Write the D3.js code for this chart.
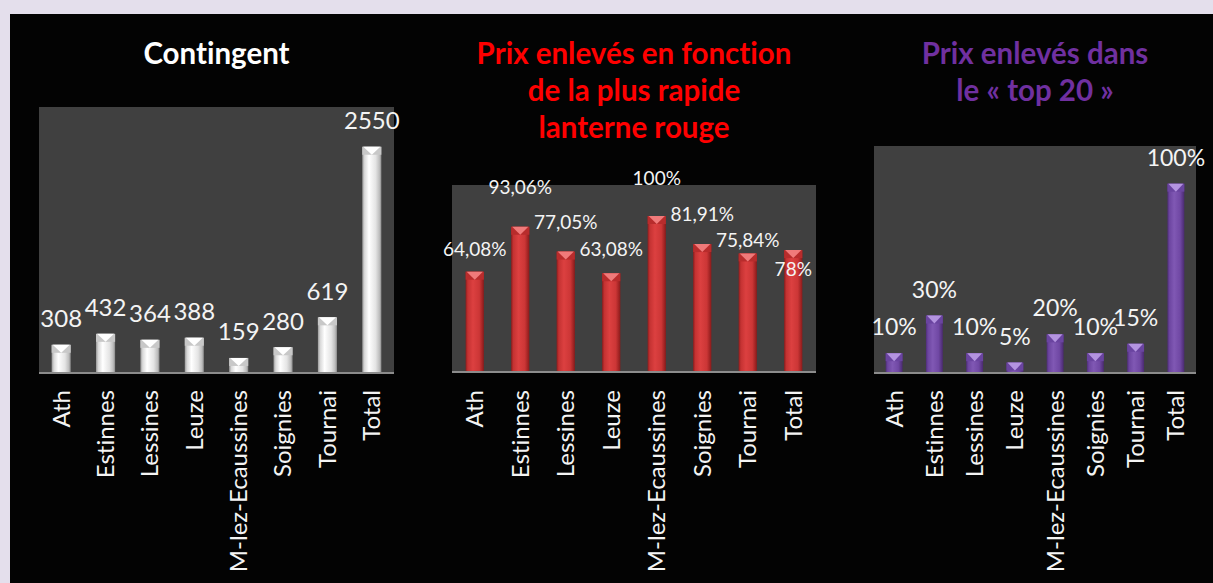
<!DOCTYPE html>
<html lang="fr">
<head>
<meta charset="UTF-8">
<title>Contingent et prix enlevés</title>
<script src="https://d3js.org/d3.v7.min.js"></script>
<style>
    body { margin: 0; background: #e4dfec; }
    svg { display: block; }
    text { font-variant-ligatures: none; font-feature-settings: "liga" 0; }
    .title { font-family: Lato, "Open Sans", sans-serif; font-weight: bold; text-anchor: middle; }
    .val { font-family: Lato, "Open Sans", sans-serif; fill: #f4f4f4; text-anchor: middle; }
    .cat { font-family: Lato, "Open Sans", sans-serif; fill: #f4f4f4; font-size: 24px; }
</style>
</head>
<body>
<svg width="1213" height="583"></svg>
<script>
    // data
    const categories = ["Ath", "Estinnes", "Lessines", "Leuze", "M-lez-Ecaussines", "Soignies", "Tournai", "Total"];
    const contingent = [308, 432, 364, 388, 159, 280, 619, 2550];
    const lanterne = [64.08, 93.06, 77.05, 63.08, 100, 81.91, 75.84, 78];
    const lanterneLabels = ["64,08%", "93,06%", "77,05%", "63,08%", "100%", "81,91%", "75,84%", "78%"];
    const top20 = [10, 30, 10, 5, 20, 10, 15, 100];
    // hand placed labels in the middle chart (px above the bar top)
    const lanterneLabelLift = [22, 39, 29, 24, 38, 30, 13, -19];

    const svg = d3.select("svg");
    svg.append("rect").attr("x", 10).attr("y", 14).attr("width", 1203).attr("height", 569).attr("fill", "#030303");

    const defs = svg.append("defs");
    function makeGrad(id, stops) {
        const g = defs.append("linearGradient").attr("id", id).attr("x1", "0").attr("x2", "1").attr("y1", "0").attr("y2", "0");
        stops.forEach(s => g.append("stop").attr("offset", s[0]).attr("stop-color", s[1]));
    }
    makeGrad("gWhite", [[0, "#9a9a9a"], [0.12, "#d8d8d8"], [0.35, "#ffffff"], [0.7, "#e4e4e4"], [0.9, "#bdbdbd"], [1, "#8a8a8a"]]);
    makeGrad("gRed", [[0, "#8e1c1c"], [0.12, "#c43232"], [0.4, "#dc4040"], [0.75, "#cc3636"], [1, "#8a1a1a"]]);
    makeGrad("gPurple", [[0, "#4e2d78"], [0.12, "#6c45a0"], [0.4, "#8058b4"], [0.75, "#7048a4"], [1, "#4a2a70"]]);

    const panels = [
        { values: contingent, labels: contingent.map(String), max: 3000, x0: 39, x1: 394, top: 107, base: 372,
          pad: 0.57, grad: "gWhite", cap: "#ffffff", capSide: "#c8c8c8", valSize: 24,
          title: ["Contingent"], titleColor: "#ffffff" },
        { values: lanterne, labels: lanterneLabels, lift: lanterneLabelLift, max: 120, x0: 452, x1: 816, top: 185, base: 371,
          pad: 0.6, grad: "gRed", cap: "#f07a7a", capSide: "#b82c2c", valSize: 19,
          title: ["Prix enlevés en fonction", "de la plus rapide", "lanterne rouge"], titleColor: "#ff0000" },
        { values: top20, labels: top20.map(d => d + "%"), max: 120, x0: 874, x1: 1196, top: 146, base: 372,
          pad: 0.58, grad: "gPurple", cap: "#b494e0", capSide: "#6a44a0", valSize: 23,
          title: ["Prix enlevés dans", "le « top 20 »"], titleColor: "#7030a0" }
    ];

    panels.forEach(p => {
        const g = svg.append("g");
        const x = d3.scaleBand().domain(categories).range([p.x0, p.x1]).paddingInner(p.pad).paddingOuter(p.pad / 2);
        const y = d3.scaleLinear().domain([0, p.max]).range([p.base, p.top]);
        const cx = c => x(c) + x.bandwidth() / 2;

        // titles
        g.selectAll("text.title").data(p.title).join("text")
            .attr("class", "title")
            .attr("x", (p.x0 + p.x1) / 2)
            .attr("y", (d, i) => 64 + i * 37)
            .attr("font-size", 29.5)
            .attr("fill", p.titleColor)
            .text(d => d);

        // plot area
        g.append("rect").attr("x", p.x0).attr("y", p.top).attr("width", p.x1 - p.x0).attr("height", p.base - p.top).attr("fill", "#404040");

        const data = categories.map((c, i) => ({ c, v: p.values[i], label: p.labels[i], lift: p.lift ? p.lift[i] : 26 }));

        // bars
        g.selectAll("rect.bar").data(data).join("rect")
            .attr("class", "bar")
            .attr("x", d => x(d.c))
            .attr("y", d => y(d.v))
            .attr("width", x.bandwidth())
            .attr("height", d => y(0) - y(d.v))
            .attr("fill", "url(#" + p.grad + ")");

        // pyramid caps on top of the bars
        const capH = 8;
        g.selectAll("path.capside").data(data).join("path")
            .attr("class", "capside")
            .attr("d", d => {
                const l = x(d.c), r = l + x.bandwidth(), t = y(d.v);
                return `M${l},${t}L${r},${t}L${r},${t + capH}L${l},${t + capH}Z`;
            })
            .attr("fill", p.capSide);
        g.selectAll("path.cap").data(data).join("path")
            .attr("class", "cap")
            .attr("d", d => {
                const l = x(d.c), r = l + x.bandwidth(), t = y(d.v);
                return `M${l + 1},${t}L${r - 1},${t}L${(l + r) / 2},${t + capH}Z`;
            })
            .attr("fill", p.cap);

        // base line
        g.append("line").attr("x1", p.x0).attr("x2", p.x1).attr("y1", p.base + 1).attr("y2", p.base + 1)
            .attr("stroke", "#8c8c8c").attr("stroke-width", 2);

        // value labels
        g.selectAll("text.val").data(data).join("text")
            .attr("class", "val")
            .attr("x", d => cx(d.c))
            .attr("y", d => y(d.v) - d.lift)
            .attr("dy", "0.35em")
            .attr("font-size", p.valSize)
            .text(d => d.label);

        // category labels, rotated
        g.selectAll("text.cat").data(categories).join("text")
            .attr("class", "cat")
            .attr("transform", d => `translate(${cx(d)},390) rotate(-90)`)
            .attr("text-anchor", "end")
            .attr("dy", "0.35em")
            .text(d => d);
    });
</script>
</body>
</html>
